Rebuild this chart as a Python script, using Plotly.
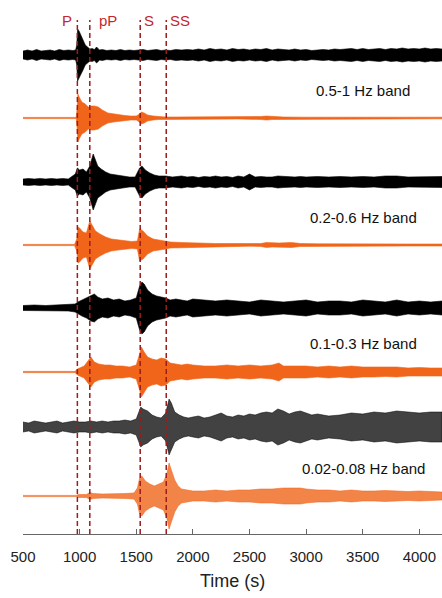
import plotly.graph_objects as go

# ---------------- data ----------------
phase_names = ["P", "pP", "S", "SS"]
phase_times = [980, 1090, 1535, 1765]

band_labels = ["0.5-1 Hz band", "0.2-0.6 Hz band", "0.1-0.3 Hz band", "0.02-0.08 Hz band"]

# envelope amplitude (arbitrary units) of each trace versus time (s)
t1 = [500, 540, 580, 620, 660, 700, 740, 780, 820, 860, 900, 940, 965, 975, 982, 995, 1010, 1030, 1050, 1070, 1090,
      1110, 1130, 1150, 1160, 1175, 1200, 1240, 1280, 1320, 1360, 1400, 1440, 1480, 1520, 1560, 1600, 1640, 1680,
      1720, 1760, 1800, 1850, 1900, 1950, 2000, 2050, 2100, 2150, 2200, 2250, 2300, 2350, 2400, 2450, 2500, 2550,
      2600, 2650, 2700, 2750, 2800, 2850, 2900, 2950, 3000, 3050, 3100, 3150, 3200, 3250, 3300, 3350, 3400, 3450,
      3500, 3550, 3600, 3650, 3700, 3750, 3800, 3850, 3900, 3950, 4000, 4050, 4100, 4150, 4200]
a1 = [4, 5, 4, 5.5, 4, 4.5, 5, 4, 5.5, 4.5, 5, 4.5, 5, 10, 26, 24, 20, 15, 10, 8, 6,
      6.5, 5.5, 8, 7, 5, 5.5, 4.5, 5, 4.5, 5.5, 4.5, 5, 4.5, 5, 5.5, 4.5, 5, 5.5,
      4.5, 5, 4.5, 5.5, 5, 5.5, 5, 6, 5, 6.5, 5.5, 6, 5, 6.5, 5.5, 6, 5, 6,
      5.5, 6.5, 5, 6, 5.5, 5, 6, 5, 5.5, 4.5, 5, 5.5, 5, 6, 5.5, 6, 6.5, 5.5,
      6.5, 5.5, 6, 6.5, 5.5, 6.5, 6, 7, 6, 6.5, 6, 7, 6, 6.5, 6]

t2 = [500, 970, 978, 985, 1000, 1020, 1050, 1077, 1100, 1130, 1165, 1200, 1250, 1300, 1350, 1400, 1450, 1500, 1530,
      1545, 1570, 1600, 1650, 1700, 1760, 1850, 2000, 2200, 2400, 2600, 2650, 2700, 2800, 3000, 3300, 3600, 3900, 4200]
a2 = [0.6, 0.6, 10, 24, 20, 16, 14, 11, 12, 12, 11, 8, 5, 4, 3, 2.5, 2, 2, 4,
      6, 5, 3, 2, 1.5, 1, 1, 1, 1.2, 1, 1.5, 2, 1.5, 1, 0.8, 0.8, 0.8, 0.8, 0.8]

t3 = [500, 550, 600, 650, 700, 750, 800, 850, 900, 936, 962, 980, 1000, 1030, 1060, 1090, 1120, 1140, 1160, 1190,
      1230, 1270, 1320, 1380, 1440, 1490, 1530, 1550, 1580, 1620, 1660, 1700, 1760, 1820, 1900, 1950, 2000, 2050,
      2100, 2150, 2200, 2250, 2300, 2350, 2400, 2450, 2500, 2550, 2600, 2650, 2700, 2750, 2800, 2850, 2900, 2950,
      3000, 3100, 3200, 3300, 3400, 3500, 3600, 3700, 3800, 3900, 4000, 4100, 4200]
a3 = [3, 3.5, 3, 3.5, 3, 3.5, 3, 3.5, 3, 6, 8, 14, 12, 13, 10, 16, 28, 22, 16, 13,
      10, 8, 7, 6, 5, 5, 14, 16, 12, 9, 7, 6, 6, 5, 6, 5, 5.5, 4.5,
      5.5, 5, 6, 5, 5.5, 4.5, 6, 5, 8, 5, 5.5, 5, 5, 6, 5.5, 5, 5, 5.5,
      5, 5.5, 5, 5.5, 5, 5.5, 5, 6, 6, 5, 5, 5.5, 5.5]

t4 = [500, 955, 975, 985, 1000, 1030, 1060, 1090, 1110, 1140, 1180, 1230, 1280, 1340, 1400, 1460, 1510, 1530, 1560,
      1600, 1650, 1700, 1760, 1800, 1900, 2000, 2100, 2200, 2300, 2400, 2500, 2600, 2650, 2700, 2760, 2870, 2950,
      3100, 3300, 3600, 3900, 4200]
a4 = [0.6, 0.6, 6, 18, 17, 13, 12, 24, 20, 14, 11, 8, 6, 5, 4, 3.5, 4, 16, 14,
      9, 6, 5, 4, 3, 2.5, 2, 2, 1.5, 1.5, 1.5, 1.2, 1.5, 2.5, 2, 2, 2.5, 1.5,
      1.2, 1, 1, 1, 1]

t5 = [500, 600, 700, 800, 900, 960, 985, 1020, 1060, 1100, 1130, 1160, 1200, 1250, 1300, 1350, 1400, 1450, 1500, 1530,
      1550, 1570, 1600, 1640, 1680, 1720, 1760, 1800, 1850, 1900, 1950, 2000, 2100, 2200, 2300, 2400, 2500, 2600,
      2700, 2800, 2900, 3000, 3100, 3200, 3300, 3400, 3500, 3600, 3700, 3800, 3900, 4000, 4100, 4200]
a5 = [2.5, 3, 2.5, 3, 3, 4, 6, 8, 10, 13, 14, 11, 9, 10, 8, 9, 7, 8, 10, 22,
      26, 24, 18, 14, 12, 11, 10, 8, 9, 8, 7, 9, 8, 7, 8, 7, 6, 8,
      7, 6, 7, 8, 6, 7, 7, 6, 8, 7, 6, 8, 6, 7, 6, 7]

t6 = [500, 960, 980, 1000, 1040, 1080, 1100, 1130, 1170, 1220, 1270, 1320, 1380, 1440, 1500, 1530, 1545, 1570, 1600,
      1640, 1680, 1720, 1760, 1800, 1850, 1900, 1950, 2000, 2100, 2200, 2300, 2400, 2500, 2600, 2700, 2760, 2800,
      2900, 3000, 3100, 3200, 3300, 3400, 3500, 3600, 3700, 3800, 3900, 4000, 4100, 4200]
a6 = [0.6, 0.6, 3, 4, 6, 12, 15, 10, 8, 7, 7, 6, 6, 5, 7, 18, 25, 20, 15,
      13, 12, 14, 13, 9, 8, 7, 8, 7, 6, 6, 7, 6, 7, 6, 7, 9, 6,
      6, 6, 5, 6, 5, 6, 5, 5, 4.5, 5, 4, 4.5, 4, 4]

t7 = [500, 550, 600, 650, 700, 750, 800, 850, 900, 950, 1000, 1050, 1100, 1150, 1200, 1250, 1300, 1350, 1400, 1450,
      1500, 1520, 1540, 1560, 1600, 1640, 1680, 1720, 1760, 1790, 1810, 1840, 1880, 1920, 1960, 2000, 2050, 2100,
      2150, 2200, 2250, 2300, 2350, 2400, 2450, 2500, 2550, 2600, 2650, 2700, 2750, 2800, 2850, 2900, 2950, 3000,
      3050, 3100, 3150, 3200, 3300, 3400, 3500, 3600, 3700, 3800, 3900, 4000, 4100, 4200]
a7 = [5, 4, 6, 5, 4, 5, 6, 4, 5, 6, 5, 5, 6, 5, 6, 5, 6, 6, 7, 6,
      8, 14, 20, 18, 16, 12, 10, 9, 14, 28, 24, 15, 12, 10, 9, 10, 11, 9,
      10, 12, 14, 11, 10, 12, 11, 13, 12, 14, 15, 14, 18, 16, 13, 15, 16, 14,
      12, 13, 12, 11, 12, 14, 13, 15, 14, 16, 15, 14, 15, 15]

t8 = [500, 970, 990, 1060, 1090, 1120, 1200, 1300, 1400, 1480, 1510, 1530, 1550, 1580, 1620, 1660, 1700, 1740, 1770,
      1790, 1810, 1840, 1870, 1900, 1950, 2000, 2100, 2200, 2300, 2400, 2500, 2600, 2700, 2800, 2900, 2950, 3000,
      3100, 3200, 3300, 3400, 3500, 3600, 3700, 3800, 3900, 4000, 4100, 4200]
a8 = [0.6, 0.6, 1.5, 1.5, 3.5, 2.5, 2, 2, 2.5, 3, 8, 18, 20, 15, 12, 10, 12, 14, 22,
      33, 26, 16, 10, 7, 6, 5, 5, 6, 5, 6, 6, 7, 7, 8, 8, 8, 7,
      6, 6, 5, 6, 5, 5, 5.5, 5, 4.5, 5, 4.5, 4]

# ---------------- layout / styling ----------------
traces = [(t1, a1), (t2, a2), (t3, a3), (t4, a4), (t5, a5), (t6, a6), (t7, a7), (t8, a8)]
offsets = [479, 416, 352, 289, 226, 162, 107, 38]
BLACK = "#000000"
ORANGE = "#f0651a"
colors = [BLACK, ORANGE, BLACK, ORANGE, BLACK, ORANGE, "rgba(0,0,0,0.85)", "rgba(240,101,26,0.9)"]
fills = [BLACK, ORANGE, BLACK, ORANGE, BLACK, ORANGE, "rgba(0,0,0,0.74)", "rgba(240,101,26,0.8)"]
label_y = [444, 317, 191, 66]
label_t = 3503
phase_label_y = 514

FONT = "Liberation Sans, Arial, sans-serif"
RED_TXT = "#c1272d"
RED_LINE = "#9b1c1c"

fig = go.Figure()
for (t, a), off, col, fc in zip(traces, offsets, colors, fills):
    xs = list(t) + list(t)[::-1]
    ys = [off + v for v in a] + [off - v for v in a][::-1]
    fig.add_trace(go.Scatter(x=xs, y=ys, mode="lines", fill="toself",
                             fillcolor=fc, line=dict(color=col, width=0.6),
                             hoverinfo="skip", showlegend=False))

for name, tp in zip(phase_names, phase_times):
    fig.add_shape(type="line", xref="x", yref="y", x0=tp, x1=tp, y0=0, y1=phase_label_y,
                  line=dict(color=RED_LINE, width=1.5, dash="5px,3px"))
    if name == "P":
        fig.add_annotation(x=tp, y=phase_label_y, text=name, showarrow=False,
                           xanchor="right", xshift=-3, yanchor="middle",
                           font=dict(family=FONT, size=15, color=RED_TXT))
    else:
        fig.add_annotation(x=tp, y=phase_label_y, text=name, showarrow=False,
                           xanchor="left", xshift=7 if name == "pP" else 2, yanchor="middle",
                           font=dict(family=FONT, size=15, color=RED_TXT))

for lab, ly in zip(band_labels, label_y):
    fig.add_annotation(x=label_t, y=ly, text=lab, showarrow=False,
                       xanchor="center", yanchor="middle",
                       font=dict(family=FONT, size=15, color="#111111"))

# axis title placed as text below the tick labels
fig.add_annotation(x=0.5, y=-0.088, xref="paper", yref="paper", text="Time (s)", showarrow=False,
                   xanchor="center", yanchor="middle",
                   font=dict(family=FONT, size=18, color="#222222"))

fig.update_layout(
    width=442, height=598,
    margin=dict(l=23, r=0, t=0, b=64),
    paper_bgcolor="white", plot_bgcolor="white",
    font=dict(family=FONT, size=15, color="#222222"),
    xaxis=dict(range=[500, 4200], tickvals=[500, 1000, 1500, 2000, 2500, 3000, 3500, 4000],
               automargin=False,
               showgrid=False, zeroline=False, showline=True, linecolor="#666666", linewidth=1,
               ticks="inside", ticklen=5, tickcolor="#666666", ticklabelstandoff=9,
               tickfont=dict(family=FONT, size=15, color="#222222")),
    yaxis=dict(range=[0, 534], visible=False, showgrid=False, zeroline=False, automargin=False),
)

fig.write_html("out.html", config={"displayModeBar": False},
               post_script="document.body.style.margin='0';document.body.style.padding='0';")
